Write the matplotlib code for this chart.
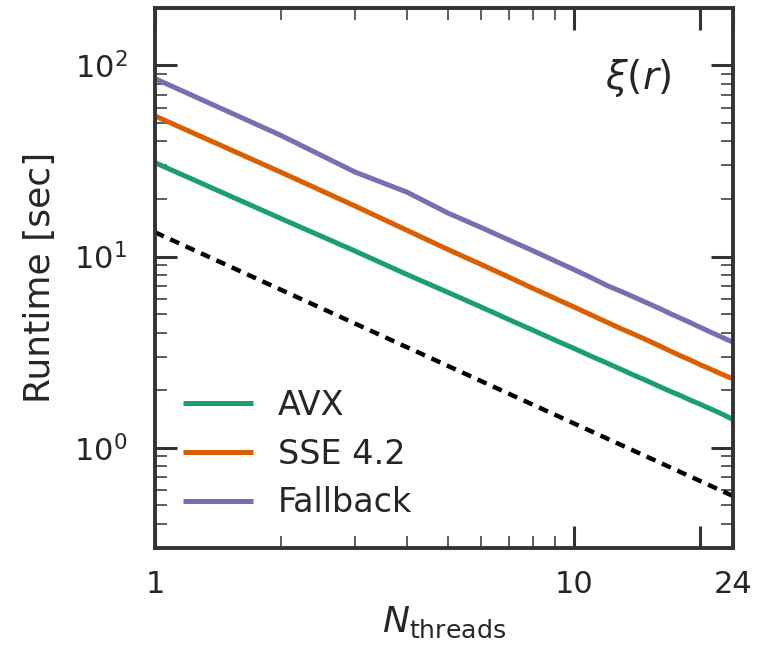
import numpy as np
import matplotlib
matplotlib.use("Agg")
import matplotlib.pyplot as plt
from matplotlib.ticker import FixedLocator, NullFormatter, FixedFormatter

threads = list(range(1, 25))
avx = [31.0, 15.8, 10.7, 8.05, 6.5, 5.45, 4.68, 4.11, 3.66, 3.31, 3.01, 2.77,
       2.56, 2.38, 2.23, 2.09, 1.97, 1.87, 1.77, 1.69, 1.61, 1.54, 1.47, 1.40]
sse = [54.4, 27.6, 18.4, 13.7, 10.9, 9.1, 7.8, 6.8, 6.05, 5.45, 4.95, 4.53,
       4.18, 3.90, 3.64, 3.41, 3.20, 3.02, 2.87, 2.72, 2.60, 2.48, 2.38, 2.29]
fallback = [85.3, 43.0, 27.7, 21.7, 16.9, 14.2, 12.2, 10.7, 9.5, 8.55, 7.75, 7.05,
            6.55, 6.1, 5.7, 5.35, 5.02, 4.75, 4.50, 4.27, 4.06, 3.88, 3.71, 3.56]
ideal_start = 13.4
ideal = [ideal_start / n for n in threads]

series_labels = ["AVX", "SSE 4.2", "Fallback"]
colors = ["#1b9e77", "#d95f02", "#7570b3"]
xtick_vals = [1, 10, 20, 24]
xtick_labels = ["1", "10", "", "24"]

txt = "#262626"
plt.rcParams.update({"font.family": "DejaVu Sans", "mathtext.fontset": "dejavusans",
                     "text.color": txt, "axes.labelcolor": txt,
                     "xtick.color": txt, "ytick.color": txt})

fig = plt.figure(figsize=(7.63, 6.52), dpi=100)
ax = fig.add_axes([0.203, 0.160, 0.758, 0.828])

for vals, lab, c in zip([avx, sse, fallback], series_labels, colors):
    ax.plot(threads, vals, color=c, lw=3.6, label=lab, solid_capstyle="butt")
ax.plot(threads, ideal, color="black", lw=3.2, linestyle=(0, (2.2, 1.6)))

ax.set_xscale("log")
ax.set_yscale("log")
ax.set_xlim(1, 24)
ax.set_ylim(0.3, 200)

ax.xaxis.set_major_locator(FixedLocator(xtick_vals))
ax.xaxis.set_major_formatter(FixedFormatter(xtick_labels))
ax.xaxis.set_minor_locator(FixedLocator([2, 3, 4, 5, 6, 7, 8, 9]))
ax.xaxis.set_minor_formatter(NullFormatter())

for s in ax.spines.values():
    s.set_linewidth(2.8)
    s.set_color("#333333")

ax.tick_params(which="major", direction="in", length=16, width=2.2, labelsize=22,
               top=True, right=True, color="#333333")
ax.tick_params(which="minor", direction="in", length=8.5, width=1.1,
               top=True, right=True, color="#333333")
ax.tick_params(axis="x", which="major", pad=16)
ax.tick_params(axis="y", which="major", pad=20)

ax.set_xlabel(r"$N_{\rm threads}$", fontsize=26, labelpad=4)
ax.set_ylabel("Runtime [sec]", fontsize=26, labelpad=12)

ax.text(0.894, 0.870, r"$\xi(r)$", transform=ax.transAxes, fontsize=28,
        ha="right", va="center")

leg = ax.legend(loc="lower left", frameon=False, fontsize=24, handlelength=2.1,
                handletextpad=0.75, labelspacing=0.47, borderaxespad=0.45)

fig.savefig("out.png", dpi=100)
